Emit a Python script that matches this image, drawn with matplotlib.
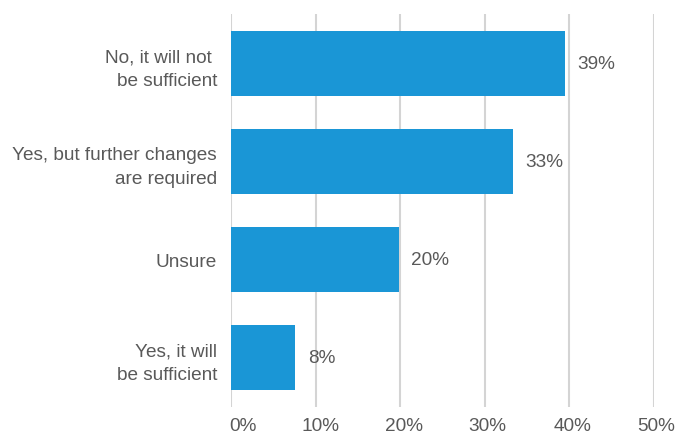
import matplotlib.pyplot as plt
from matplotlib.transforms import ScaledTranslation

plt.rcParams['font.family'] = ['Liberation Sans', 'DejaVu Sans']

categories = ["No, it will not \nbe sufficient",
              "Yes, but further changes\nare required",
              "Unsure",
              "Yes, it will\nbe sufficient"]
values = [39.5, 33.3, 19.8, 7.6]
value_labels = ["39%", "33%", "20%", "8%"]
ticks = [0, 10, 20, 30, 40, 50]

bar_color = "#1a96d6"
text_color = "#595959"
fs = 13.7

fig = plt.figure(figsize=(6.78, 4.35), dpi=100)
ax = fig.add_axes([231 / 678, 1 - 408 / 435, 423 / 678, 393 / 435])

ypos = range(len(categories))
ax.barh(ypos, values, height=0.66, color=bar_color, zorder=3)

for y, v, lab in zip(ypos, values, value_labels):
    ax.annotate(lab, (v, y), xytext=(9, 0), textcoords="offset points",
                va="center", ha="left", fontsize=fs, color=text_color)

ax.set_xlim(0, 50)
ax.set_ylim(3.5, -0.5)
ax.set_xticks(ticks)
ax.set_xticklabels([f"{t}%" for t in ticks])
ax.set_yticks(list(ypos))
ax.set_yticklabels(categories, linespacing=1.5)

ax.grid(axis="x", color="#d4d4d4", linewidth=1.5, zorder=0)
ax.grid(axis="y", visible=False)
for s in ax.spines.values():
    s.set_visible(False)
ax.tick_params(axis="both", length=0, labelsize=fs, labelcolor=text_color)
ax.tick_params(axis="x", pad=7)
ax.tick_params(axis="y", pad=10)

# shift tick labels slightly right like the original
shifts = [0.12, 0.05, 0.04, 0.03, 0.03, 0.02]
for lab, dx in zip(ax.get_xticklabels(), shifts):
    lab.set_transform(lab.get_transform() + ScaledTranslation(dx, 0, fig.dpi_scale_trans))

fig.savefig("out.png", dpi=100)
